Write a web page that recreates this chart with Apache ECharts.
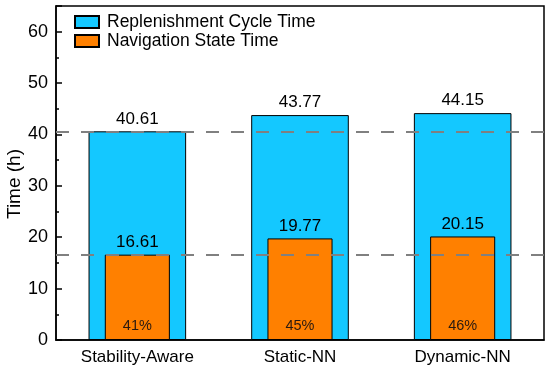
<!DOCTYPE html>
<html><head><meta charset="utf-8">
<script src="https://cdn.jsdelivr.net/npm/echarts@6/dist/echarts.min.js"></script>
<style>html,body{margin:0;padding:0;background:#fff}#c{width:550px;height:371px}</style>
</head><body><div id="c"></div>
<script>
const categories = ['Stability-Aware', 'Static-NN', 'Dynamic-NN'];
const cycleTime = [40.61, 43.77, 44.15];
const navTime = [16.61, 19.77, 20.15];
const navShare = ['41%', '45%', '46%'];
const refLines = [40.61, 16.61];
const yTicks = [0, 10, 20, 30, 40, 50, 60];
const yAxisTitle = 'Time (h)';

const font = 'Liberation Sans, Arial, sans-serif';
const chart = echarts.init(document.getElementById('c'), null, {renderer: 'canvas'});
const hiddenX = (i) => ({type: 'category', data: categories, gridIndex: 0, show: false, boundaryGap: true});
chart.setOption({
  animation: false,
  grid: {left: 56, right: 6, top: 6, bottom: 31, containLabel: false, outerBoundsMode: 'none',
         show: true, borderColor: '#000', borderWidth: 1.5, backgroundColor: 'transparent'},
  legend: {
    orient: 'vertical', left: 69, top: 8, itemWidth: 24, itemHeight: 12, itemGap: 1,
    icon: 'rect',
    textStyle: {fontFamily: font, fontSize: 17.5, color: '#000', padding: [0, 0, 0, 3]},
    data: ['Replenishment Cycle Time', 'Navigation State Time']
  },
  graphic: [{
    type: 'text', x: 15, y: 184, rotation: Math.PI / 2, silent: true,
    style: {text: yAxisTitle, fontFamily: font, fontSize: 19, fill: '#000',
            align: 'center', verticalAlign: 'middle'}
  }],
  xAxis: [
    {type: 'category', data: categories, boundaryGap: true,
     axisLine: {show: true, lineStyle: {color: '#000', width: 1.5}},
     axisTick: {show: true, inside: true, alignWithLabel: true, length: 5, lineStyle: {color: '#000', width: 1.5}},
     axisLabel: {fontFamily: font, fontSize: 17, color: '#000', margin: 9}},
    hiddenX(1), hiddenX(2)
  ],
  yAxis: {
    type: 'value', min: 0, max: 65, interval: 10,
    axisLine: {show: true, lineStyle: {color: '#000', width: 1.5}},
    axisTick: {show: true, inside: true, length: 6, lineStyle: {color: '#000', width: 1.5}},
    minorTick: {show: true, splitNumber: 2, length: 3, lineStyle: {color: '#000', width: 1.5}},
    splitLine: {show: false},
    axisLabel: {fontFamily: font, fontSize: 18, color: '#000', margin: 8,
      formatter: v => yTicks.includes(v) ? String(v) : ''}
  },
  series: [
    {name: 'Replenishment Cycle Time', type: 'bar', xAxisIndex: 0, barWidth: '60%', data: cycleTime,
     itemStyle: {color: '#14C8FF', borderColor: '#000', borderWidth: 1},
     label: {show: true, position: 'top', distance: 4, fontFamily: font, fontSize: 17, color: '#000',
       formatter: p => p.value.toFixed(2)}},
    {name: 'Navigation State Time', type: 'bar', xAxisIndex: 1, barWidth: '40%', data: navTime, z: 3,
     itemStyle: {color: '#FF8000', borderColor: '#000', borderWidth: 1},
     label: {show: true, position: 'top', distance: 4, fontFamily: font, fontSize: 17, color: '#000',
       formatter: p => p.value.toFixed(2)},
     markLine: {silent: true, symbol: 'none', z: 10,
       lineStyle: {color: '#808080', type: [13, 12], width: 2},
       label: {show: false},
       data: refLines.map(v => ({yAxis: v}))}},
    {name: 'share', type: 'bar', xAxisIndex: 2, barWidth: '40%', data: navTime, z: 4,
     itemStyle: {color: 'rgba(0,0,0,0)'},
     label: {show: true, position: 'insideBottom', distance: 7, fontFamily: font, fontSize: 14.5, color: '#2a1a10',
       formatter: p => navShare[p.dataIndex]}}
  ]
});
</script></body></html>
